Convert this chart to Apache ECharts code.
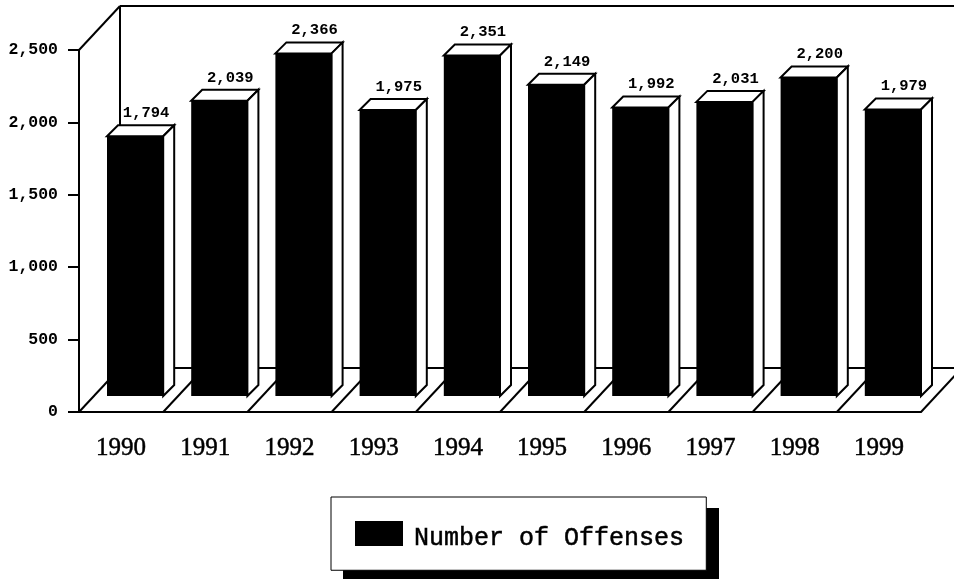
<!DOCTYPE html>
<html>
<head>
<meta charset="utf-8">
<title>Number of Offenses</title>
<style>
  html, body { margin: 0; padding: 0; background: #fff; }
  #chart { width: 954px; height: 581px; }
</style>
<script src="https://cdn.jsdelivr.net/npm/echarts@6/dist/echarts.min.js"></script>
</head>
<body>
<div id="chart"></div>
<script>
const years = ['1990', '1991', '1992', '1993', '1994', '1995', '1996', '1997', '1998', '1999'];
const offenses = [1794, 2039, 2366, 1975, 2351, 2149, 1992, 2031, 2200, 1979];
const seriesName = 'Number of Offenses';
const yMax = 2500;
const yStep = 500;

// fake 3d: how far the back wall and the bars are pushed, in px
const WALL_DX = 41;
const WALL_DY = 44;
const BAR_DX = 11;
const BAR_DY = 11;
const BAR_SHIFT_X = 28;
const BAR_SHIFT_Y = 16;
const LINE = { stroke: '#000', lineWidth: 2, fill: null };

const line = (x1, y1, x2, y2) => ({
  type: 'line',
  shape: { x1, y1, x2, y2 },
  style: LINE
});

const fmt = (v) => Number(v).toLocaleString('en-US');

function renderFloor(params, api) {
  const i = api.value(0);
  const band = api.size([1, 0])[0];
  const c = api.coord([i, 0]);
  const x = c[0] - band / 2;
  const y = c[1];
  const kids = [
    line(x, y, x + WALL_DX, y - WALL_DY),
    line(x + WALL_DX, y - WALL_DY, x + band + WALL_DX, y - WALL_DY)
  ];
  if (i === years.length - 1) {
    kids.push(line(x + band, y, x + band + WALL_DX, y - WALL_DY));
  }
  if (i === 0) {
    const top = api.coord([i, yMax])[1];
    kids.push(line(x, top, x + WALL_DX, top - WALL_DY));
    kids.push(line(x + WALL_DX, top - WALL_DY, x + WALL_DX, y - WALL_DY));
    kids.push(line(x + WALL_DX, top - WALL_DY, x + band * years.length + WALL_DX, top - WALL_DY));
  }
  return { type: 'group', children: kids };
}

function renderBar(params, api) {
  const i = api.value(0);
  const v = api.value(1);
  const band = api.size([1, 0])[0];
  const top = api.coord([i, v]);
  const base = api.coord([i, 0]);
  const x0 = top[0] - band / 2 + BAR_SHIFT_X;
  const x1 = top[0] + band / 2;
  const y0 = top[1] - BAR_SHIFT_Y;
  const y1 = base[1] - BAR_SHIFT_Y;
  const face = { fill: '#fff', stroke: '#000', lineWidth: 2 };
  return {
    type: 'group',
    children: [
      { type: 'polygon', shape: { points: [[x0, y0], [x0 + BAR_DX, y0 - BAR_DY], [x1 + BAR_DX, y0 - BAR_DY], [x1, y0]] }, style: face },
      { type: 'polygon', shape: { points: [[x1, y0], [x1 + BAR_DX, y0 - BAR_DY], [x1 + BAR_DX, y1 - BAR_DY], [x1, y1]] }, style: face },
      { type: 'rect', shape: { x: x0, y: y0, width: x1 - x0, height: y1 - y0 }, style: { fill: '#000' } },
      {
        type: 'text',
        style: {
          x: (x0 + x1) / 2 + BAR_DX,
          y: y0 - BAR_DY - 4,
          text: fmt(v),
          fill: '#000',
          font: 'bold 15.5px "Liberation Mono"',
          textAlign: 'center',
          textVerticalAlign: 'bottom'
        }
      }
    ]
  };
}

const chart = echarts.init(document.getElementById('chart'), null, { renderer: 'canvas' });
chart.setOption({
  animation: false,
  backgroundColor: '#fff',
  grid: { left: 79, top: 50, width: 842, height: 362, containLabel: false },
  // drop shadow of the legend box
  graphic: [{
    type: 'rect',
    z: 1,
    shape: { x: 343, y: 508, width: 376, height: 71 },
    style: { fill: '#000' }
  }],
  legend: {
    left: 331,
    top: 497,
    z: 5,
    orient: 'horizontal',
    data: [seriesName],
    icon: 'rect',
    itemWidth: 48,
    itemHeight: 25,
    itemGap: 0,
    padding: [19, 22, 19, 24],
    backgroundColor: '#fff',
    borderColor: '#000',
    borderWidth: 1,
    formatter: '{n|{name}}',
    textStyle: {
      rich: {
        n: {
          fontFamily: 'Liberation Mono',
          fontSize: 25,
          color: '#000',
          textBorderColor: '#000',
          textBorderWidth: 0.5,
          lineHeight: 25,
          padding: [10, 0, 0, 6]
        }
      }
    }
  },
  xAxis: {
    type: 'category',
    data: years,
    axisLine: { lineStyle: { color: '#000', width: 2 } },
    axisTick: { alignWithLabel: true, length: 11, lineStyle: { color: '#000', width: 2 } },
    axisLabel: {
      margin: 24,
      color: '#000',
      fontFamily: 'Liberation Serif',
      fontSize: 25,
      textBorderColor: '#000',
      textBorderWidth: 0.5
    }
  },
  yAxis: {
    type: 'value',
    min: 0,
    max: yMax,
    interval: yStep,
    splitLine: { show: false },
    axisLine: { show: true, lineStyle: { color: '#000', width: 2 } },
    axisTick: { show: true, length: 11, lineStyle: { color: '#000', width: 2 } },
    axisLabel: { margin: 21, color: '#000', fontFamily: 'Liberation Mono', fontWeight: 'bold', fontSize: 16.5, formatter: fmt }
  },
  series: [
    {
      type: 'custom',
      name: 'floor',
      renderItem: renderFloor,
      silent: true,
      data: years.map((y, i) => [i, 0]),
      z: 1
    },
    {
      type: 'custom',
      name: seriesName,
      renderItem: renderBar,
      itemStyle: { color: '#000' },
      encode: { x: 0, y: 1 },
      data: offenses.map((v, i) => [i, v]),
      z: 3
    }
  ]
});
</script>
</body>
</html>
